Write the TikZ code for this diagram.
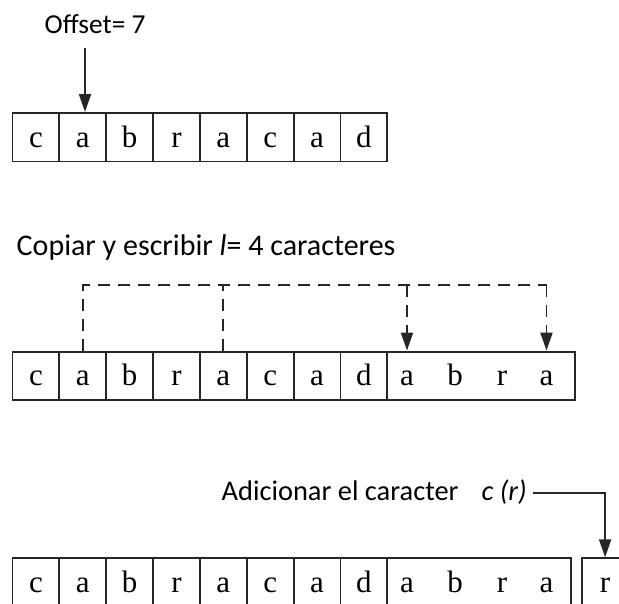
\documentclass[tikz,border=0pt]{standalone}
\usepackage{fontspec}
\setmainfont{Liberation Serif}
\newfontfamily\labelfont{Carlito}
\usetikzlibrary{arrows.meta}
\definecolor{linecol}{HTML}{262626}
\begin{document}
\begin{tikzpicture}[x=1pt,y=-1pt,
  cell/.style={draw=linecol, line width=1.9pt, minimum width=46.85pt, minimum height=48.5pt,
    inner sep=0pt, text height=19.8pt, text depth=0pt, font=\fontsize{31}{33}\selectfont},
  wide/.style={cell, minimum width=#1},
  letter/.style={inner sep=0pt, text height=19.8pt, text depth=0pt, font=\fontsize{31}{33}\selectfont},
  caption/.style={inner sep=0pt, anchor=base west, font=\labelfont\fontsize{#1}{32}\selectfont},
  arrowline/.style={draw=linecol, line width=1.9pt, -{Triangle[length=18pt,width=12pt]}},
  dashline/.style={draw=linecol, line width=1.9pt, dash pattern=on 12pt off 8pt}
]
\useasboundingbox (0,0) rectangle (619,603);

% ---- row 1 ----
\node[caption=27.4] (offset) at (44.5,33) {Offset= 7};
\foreach \l [count=\i] in {c,a,b,r,a,c,a,d}
  \node[cell] (ra\i) at ({12.5+46.85*(\i-0.5)},137.2) {\l};
\coordinate (offtop) at (85,48);
\draw[arrowline] (offtop) -- (offtop |- ra2.north);

% ---- row 2 ----
\node[caption=30] (copiar) at (16.5,255) {Copiar y escribir \textit{l}= 4 caracteres};
\foreach \l [count=\i] in {c,a,b,r,a,c,a,d}
  \node[cell] (rb\i) at ({12.5+46.85*(\i-0.5)},375.8) {\l};
\node[wide=187.7pt] (rbabra) at (481.15,375.8) {};
\node[letter] (rbl1) at (407,375.8) {a};
\node[letter] (rbl2) at (455,375.8) {b};
\node[letter] (rbl3) at (502,375.8) {r};
\node[letter] (rbl4) at (546.5,375.8) {a};

\coordinate (d1) at (83.3,285);
\coordinate (d2) at (222.7,285);
\coordinate (d3) at (407,285);
\coordinate (d4) at (546.5,285);
\draw[dashline] (d1 |- rb2.north) -- (d1) -- (d4);
\draw[dashline] (d2 |- rb5.north) -- (d2);
\draw[dashline, arrowline] (d3) -- (d3 |- rbabra.north);
\draw[dashline, arrowline] (d4) -- (d4 |- rbabra.north);

% ---- row 3 ----
\node[caption=28.4] (adic) at (221.5,500) {Adicionar el caracter\hspace{23pt}\textit{c (r)}};
\foreach \l [count=\i] in {c,a,b,r,a,c,a,d}
  \node[cell] (rc\i) at ({12.5+46.85*(\i-0.5)},582.5) {\l};
\node[wide=183.7pt] (rcabra) at (479.15,582.5) {};
\node[letter] (rcl1) at (407,582.5) {a};
\node[letter] (rcl2) at (455,582.5) {b};
\node[letter] (rcl3) at (502,582.5) {r};
\node[letter] (rcl4) at (546.5,582.5) {a};
\node[cell] (rbox) at (605.1,582.5) {r};
\coordinate (adend) at (533,492.7);
\draw[arrowline] (adend) -| (rbox.north);
\end{tikzpicture}
\end{document}
